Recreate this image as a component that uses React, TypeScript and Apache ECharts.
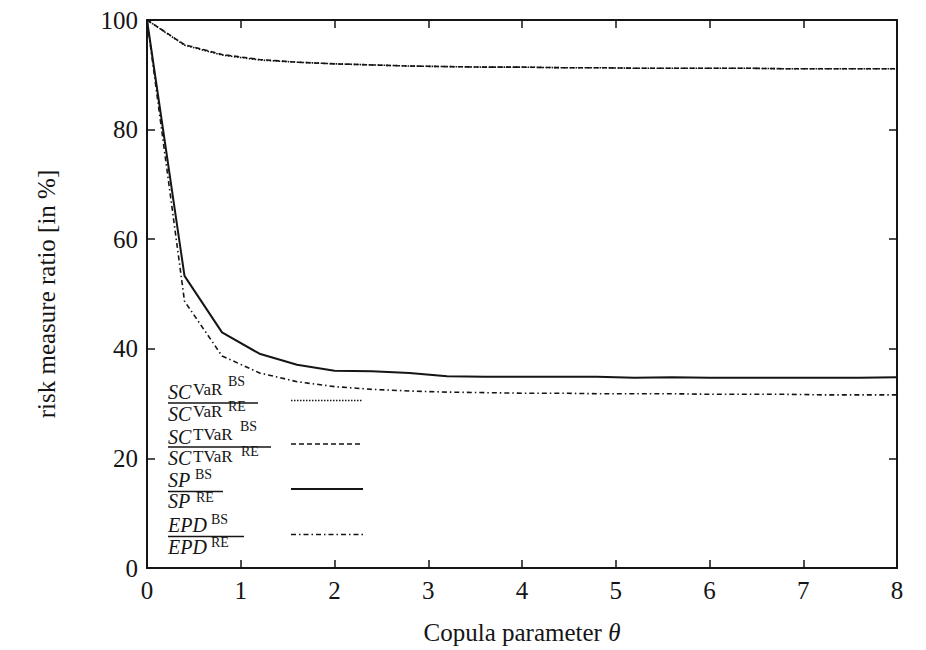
import React, { useEffect, useRef } from "react";
import * as echarts from "echarts";

const theta = [0, 0.4, 0.8, 1.2, 1.6, 2.0, 2.4, 2.8, 3.2, 3.6, 4.0, 4.4, 4.8, 5.2, 5.6, 6.0, 6.4, 6.8, 7.2, 7.6, 8.0];
const varRatio = [100, 95.4, 93.6, 92.7, 92.3, 92.0, 91.8, 91.6, 91.5, 91.4, 91.4, 91.3, 91.3, 91.2, 91.2, 91.2, 91.2, 91.1, 91.1, 91.1, 91.1];
const tvarRatio = [100, 95.5, 93.7, 92.8, 92.3, 92.0, 91.8, 91.6, 91.5, 91.4, 91.4, 91.3, 91.3, 91.2, 91.2, 91.2, 91.2, 91.1, 91.1, 91.1, 91.1];
const spRatio = [100, 53.3, 43.0, 39.1, 37.1, 36.0, 35.9, 35.6, 35.0, 34.9, 34.9, 34.9, 34.9, 34.7, 34.8, 34.7, 34.7, 34.7, 34.7, 34.7, 34.8];
const epdRatio = [100, 48.7, 38.7, 35.6, 34.0, 33.1, 32.6, 32.3, 32.1, 32.0, 31.9, 31.9, 31.8, 31.8, 31.8, 31.7, 31.7, 31.7, 31.6, 31.6, 31.6];

const xTicks = [0, 1, 2, 3, 4, 5, 6, 7, 8];
const yTicks = [0, 20, 40, 60, 80, 100];

const FONT = "'Liberation Serif', 'DejaVu Serif', serif";
const INK = "#151515";

type Part = { t: string; x: number; y: number; s: number; i?: boolean };

function txt(p: Part) {
  return {
    type: "text",
    x: p.x,
    y: p.y,
    silent: true,
    style: {
      text: p.t,
      fill: INK,
      fontSize: p.s,
      fontFamily: FONT,
      fontStyle: p.i ? "italic" : "normal",
      align: "left",
      verticalAlign: "middle",
      textAlign: "left",
      textVerticalAlign: "middle",
    },
  };
}

function hline(x1: number, x2: number, y: number, w: number, dash?: number[]) {
  return {
    type: "line",
    silent: true,
    shape: { x1, y1: y, x2, y2: y },
    style: { stroke: INK, lineWidth: w, lineDash: dash || null },
  };
}

const DOT = [1.5, 1.5];
const DASH = [5, 3];
const DASHDOT = [5, 3, 1.5, 3];

function buildLegend() {
  const parts: Part[] = [
    // entry 1: VaR
    { t: "SC", x: 168, y: 392, s: 20, i: true },
    { t: "VaR", x: 193, y: 389, s: 17 },
    { t: "BS", x: 228, y: 381, s: 14 },
    { t: "SC", x: 168, y: 414, s: 20, i: true },
    { t: "VaR", x: 193, y: 411, s: 17 },
    { t: "RE", x: 228, y: 406, s: 14 },
    // entry 2: TVaR
    { t: "SC", x: 168, y: 437, s: 20, i: true },
    { t: "TVaR", x: 193, y: 434, s: 17 },
    { t: "BS", x: 240, y: 426, s: 14 },
    { t: "SC", x: 168, y: 458, s: 20, i: true },
    { t: "TVaR", x: 193, y: 456, s: 17 },
    { t: "RE", x: 241, y: 451, s: 14 },
    // entry 3: SP
    { t: "SP", x: 168, y: 480, s: 20, i: true },
    { t: "BS", x: 195, y: 474, s: 14 },
    { t: "SP", x: 168, y: 501, s: 20, i: true },
    { t: "RE", x: 196, y: 497, s: 14 },
    // entry 4: EPD
    { t: "EPD", x: 168, y: 525, s: 20, i: true },
    { t: "BS", x: 211, y: 519, s: 14 },
    { t: "EPD", x: 168, y: 547, s: 20, i: true },
    { t: "RE", x: 211, y: 542, s: 14 },
  ];
  const els: any[] = parts.map(txt);
  els.push(hline(168, 258, 403, 1.5));
  els.push(hline(168, 271, 447, 1.5));
  els.push(hline(168, 223, 491.5, 1.5));
  els.push(hline(168, 244, 536.5, 1.5));
  els.push(hline(291, 363, 400.5, 1.6, DOT));
  els.push(hline(291, 363, 444, 1.6, DASH));
  els.push(hline(291, 363, 489, 2, undefined));
  els.push(hline(291, 363, 534.5, 1.6, DASHDOT));
  return els;
}

const axisLine = { show: true, onZero: false, lineStyle: { color: INK, width: 2 } };
const tick = { show: true, inside: true, length: 8, lineStyle: { color: INK, width: 1.5 } };
const label = { fontFamily: FONT, fontSize: 25, color: INK };

export default function App() {
  const ref = useRef<HTMLDivElement>(null);
  useEffect(() => {
    if (!ref.current) return;
    const chart = echarts.init(ref.current, null, { renderer: "svg" });
    const mk = (arr: number[]) => theta.map((t, i) => [t, arr[i]]);
    chart.setOption({
      animation: false,
      backgroundColor: "#fff",
      grid: { left: 147, right: 29, top: 20, bottom: 80 },
      xAxis: [
        {
          type: "value",
          position: "bottom",
          min: xTicks[0],
          max: xTicks[xTicks.length - 1],
          interval: 1,
          axisLine,
          axisTick: tick,
          splitLine: { show: false },
          axisLabel: { ...label, margin: 10 },
          name: "Copula parameter {i|θ}",
          nameLocation: "middle",
          nameGap: 52,
          nameTextStyle: {
            fontFamily: FONT,
            fontSize: 25,
            color: INK,
            rich: { i: { fontFamily: FONT, fontSize: 25, fontStyle: "italic", color: INK } },
          },
        },
        {
          type: "value",
          position: "top",
          min: 0,
          max: 8,
          interval: 1,
          axisLine,
          axisTick: tick,
          splitLine: { show: false },
          axisLabel: { show: false },
        },
      ],
      yAxis: [
        {
          type: "value",
          position: "left",
          min: yTicks[0],
          max: yTicks[yTicks.length - 1],
          interval: 20,
          axisLine,
          axisTick: tick,
          splitLine: { show: false },
          axisLabel: { ...label, margin: 9 },
          name: "risk measure ratio [in %]",
          nameLocation: "middle",
          nameGap: 88,
          nameTextStyle: { fontFamily: FONT, fontSize: 25, color: INK },
        },
        {
          type: "value",
          position: "right",
          min: 0,
          max: 100,
          interval: 20,
          axisLine,
          axisTick: tick,
          splitLine: { show: false },
          axisLabel: { show: false },
        },
      ],
      series: [
        {
          name: "VaR",
          type: "line",
          data: mk(varRatio),
          showSymbol: false,
          lineStyle: { color: INK, width: 1.6, type: DOT },
        },
        {
          name: "TVaR",
          type: "line",
          data: mk(tvarRatio),
          showSymbol: false,
          lineStyle: { color: INK, width: 1.6, type: DASH },
        },
        {
          name: "SP",
          type: "line",
          data: mk(spRatio),
          showSymbol: false,
          lineStyle: { color: INK, width: 2, type: "solid" },
        },
        {
          name: "EPD",
          type: "line",
          data: mk(epdRatio),
          showSymbol: false,
          lineStyle: { color: INK, width: 1.6, type: DASHDOT },
        },
      ],
      graphic: { elements: buildLegend() },
    });
    return () => chart.dispose();
  }, []);
  return (
    <div
      ref={ref}
      style={{ position: "fixed", left: 0, top: 0, width: 926, height: 650, background: "#fff" }}
    />
  );
}
